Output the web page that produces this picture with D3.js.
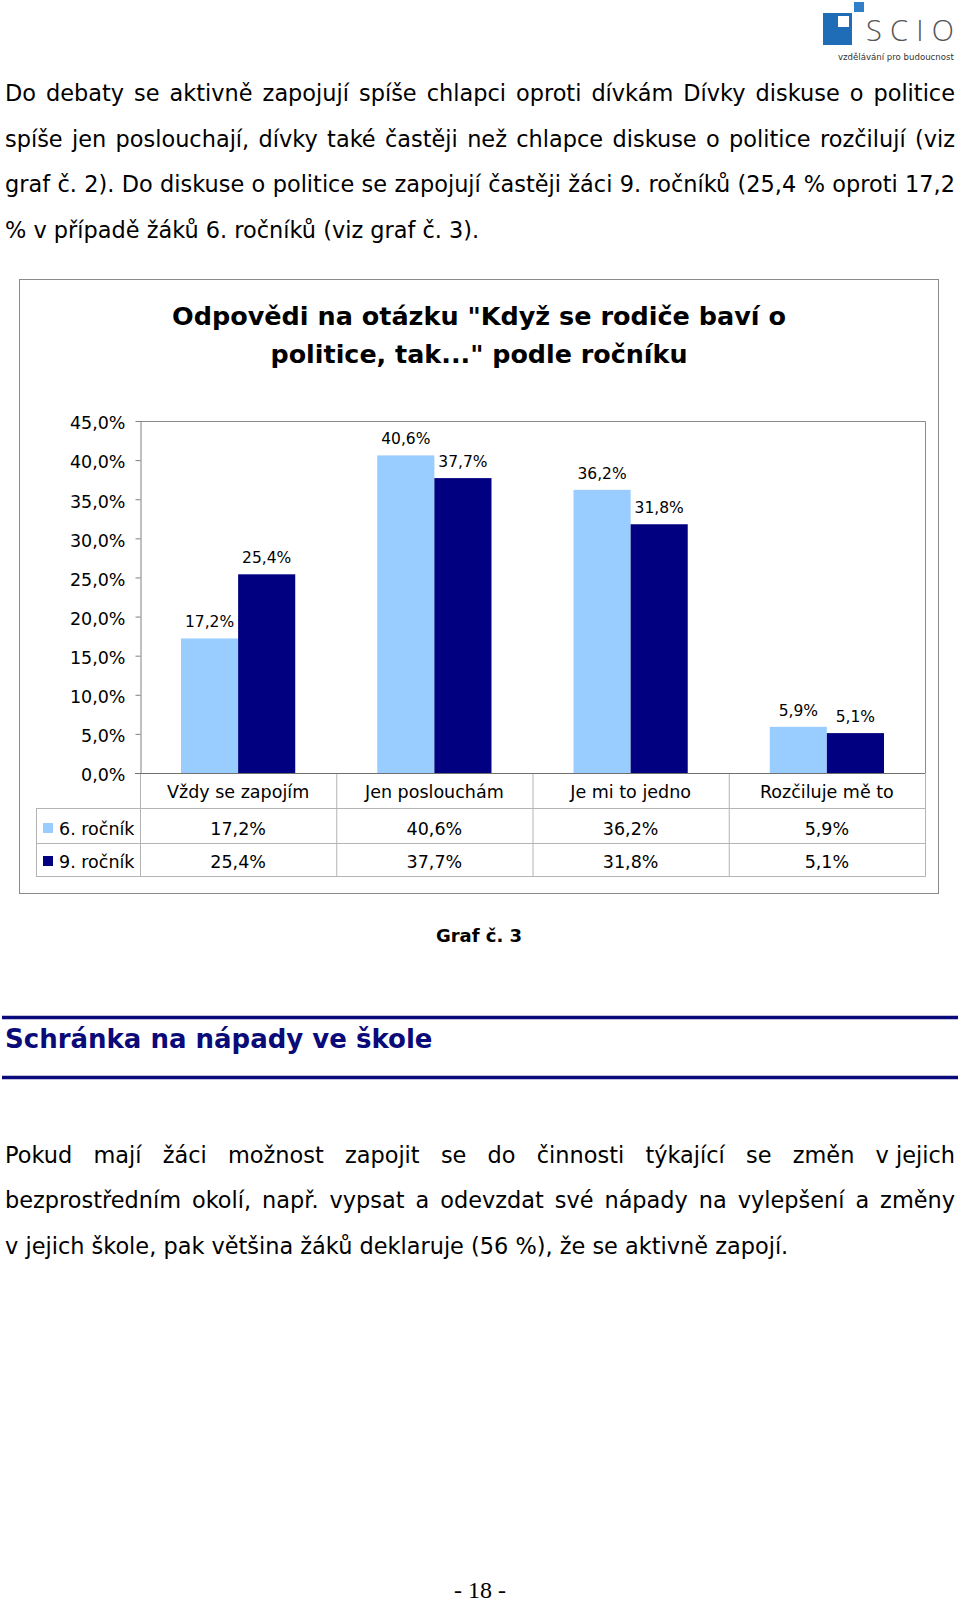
<!DOCTYPE html>
<html><head><meta charset="utf-8">
<script src="https://cdn.jsdelivr.net/npm/d3@7"></script>
<style>
html,body{margin:0;padding:0;background:#fff;}
svg{display:block;}
</style></head><body>
<svg id="page" width="960" height="1604"></svg>
<script>
// ---------- data ----------
const categories = ["Vždy se zapojím", "Jen poslouchám", "Je mi to jedno", "Rozčiluje mě to"];
const seriesNames = ["6. ročník", "9. ročník"];
const grade6 = [17.2, 40.6, 36.2, 5.9];
const grade9 = [25.4, 37.7, 31.8, 5.1];
const yTicks = [0, 5, 10, 15, 20, 25, 30, 35, 40, 45];
const chartTitle = ['Odpovědi na otázku "Když se rodiče baví o', 'politice, tak..." podle ročníku'];
const para1 = [
  "Do debaty se aktivně zapojují spíše chlapci oproti dívkám Dívky diskuse o politice",
  "spíše jen poslouchají, dívky také častěji než chlapce diskuse o politice rozčilují (viz",
  "graf č. 2). Do diskuse o politice se zapojují častěji žáci 9. ročníků (25,4 % oproti 17,2",
  "% v případě žáků 6. ročníků (viz graf č. 3)."
];
const para2 = [
  "Pokud mají žáci možnost zapojit se do činnosti týkající se změn v\u00A0jejich",
  "bezprostředním okolí, např. vypsat a odevzdat své nápady na vylepšení a změny",
  "v\u00A0jejich škole, pak většina žáků deklaruje (56 %), že se aktivně zapojí."
];
const caption = "Graf č. 3";
const heading = "Schránka na nápady ve škole";
const pageNo = "- 18 -";
const logoWord = "SCIO";
const logoTagline = "vzdělávání pro budoucnost";

// ---------- helpers ----------
const svg = d3.select("#page");
const FONT = "'DejaVu Sans', Verdana, sans-serif";
const ctx = document.createElement("canvas").getContext("2d");
function measure(str, font) { ctx.font = font; return ctx.measureText(str).width; }
const pct = v => d3.format(".1f")(v).replace(".", ",") + "%";

// ---------- logo ----------
const logo = svg.append("g");
logo.append("rect").attr("x", 854).attr("y", 2).attr("width", 10).attr("height", 10).attr("fill", "#2f80c8");
logo.append("rect").attr("x", 823).attr("y", 13).attr("width", 29).attr("height", 32).attr("fill", "#1f6db6");
logo.append("rect").attr("x", 838).attr("y", 16).attr("width", 11).attr("height", 11).attr("fill", "#fff");
logo.append("text").attr("x", 866).attr("y", 41).attr("textLength", 88).attr("lengthAdjust", "spacing")
  .attr("font-family", "'Open Sans', 'DejaVu Sans', sans-serif").attr("font-weight", 300)
  .attr("font-size", 29).attr("fill", "#555").text(logoWord);
const tagSize = 10 * 116 / measure(logoTagline, "10px 'DejaVu Sans'");
logo.append("text").attr("x", 838).attr("y", 60)
  .attr("font-family", FONT).attr("font-size", tagSize).attr("fill", "#333").text(logoTagline);

// ---------- body paragraphs ----------
const ref = 18.5;
const fitA = ref * 781 / measure(para2[para2.length - 1], ref + "px 'DejaVu Sans'");
const fitB = ref * 476 / measure(para1[para1.length - 1], ref + "px 'DejaVu Sans'");
const bodySize = Math.max(17, Math.min(23, (fitA + fitB) / 2));
const bodyFont = bodySize + "px 'DejaVu Sans'";
const spaceW = measure(" ", bodyFont);

function drawParagraph(lines, baselines) {
  lines.forEach((line, i) => {
    const words = line.split(" ");
    const widths = words.map(w => measure(w, bodyFont));
    const total = d3.sum(widths);
    const justified = i < lines.length - 1;
    const gap = justified ? (950 - total) / (words.length - 1) : spaceW;
    const t = svg.append("text").attr("y", baselines[i]).attr("font-family", FONT)
      .attr("font-size", bodySize).attr("fill", "#000");
    let x = 5;
    words.forEach((w, j) => {
      t.append("tspan").attr("x", x).text(w);
      x += widths[j] + gap;
    });
  });
}
drawParagraph(para1, [101, 146.7, 192.3, 238]);
drawParagraph(para2, [1162.5, 1208, 1253.5]);

// ---------- chart ----------
const frame = { x: 19, y: 279, w: 919, h: 614 };
svg.append("rect").attr("x", frame.x + 0.5).attr("y", frame.y + 0.5).attr("width", frame.w).attr("height", frame.h)
  .attr("fill", "#fff").attr("stroke", "#8a8a8a");

const title = svg.append("g").attr("font-family", FONT).attr("font-weight", "bold").attr("font-size", 25)
  .attr("text-anchor", "middle").attr("fill", "#000");
title.append("text").attr("x", 479).attr("y", 325).attr("textLength", 614).attr("lengthAdjust", "spacingAndGlyphs").text(chartTitle[0]);
title.append("text").attr("x", 479).attr("y", 363).attr("textLength", 417).attr("lengthAdjust", "spacingAndGlyphs").text(chartTitle[1]);

const plot = { left: 140, right: 925, top: 421, bottom: 773 };
const y = d3.scaleLinear().domain([0, 45]).range([plot.bottom, plot.top]);
const x0 = d3.scaleBand().domain(categories).range([plot.left, plot.right]);
const bw = x0.bandwidth();
const x1 = d3.scaleBand().domain(seriesNames).range([bw * 0.209, bw * 0.791]);
const color = d3.scaleOrdinal().domain(seriesNames).range(["#99ccff", "#000080"]);
const seriesVals = { "6. ročník": grade6, "9. ročník": grade9 };

// plot border (top & right)
svg.append("path").attr("d", `M${plot.left},${plot.top + 0.5}H${plot.right + 0.5}V${plot.bottom}`)
  .attr("fill", "none").attr("stroke", "#8a8a8a");

// y axis
const yAxis = svg.append("g").attr("transform", `translate(${plot.left + 0.5},0)`)
  .call(d3.axisLeft(y).tickValues(yTicks).tickSize(5).tickSizeOuter(0).tickPadding(10).tickFormat(v => pct(v)));
yAxis.selectAll("path,line").attr("stroke", "#808080");
yAxis.selectAll("text").attr("font-family", FONT).attr("font-size", 17.5).attr("fill", "#000").attr("dy", "0.45em");

// bars
const groups = svg.append("g").selectAll("g").data(categories).join("g")
  .attr("transform", d => `translate(${x0(d)},0)`);
groups.selectAll("rect").data((c, ci) => seriesNames.map(s => ({ s, v: seriesVals[s][ci] }))).join("rect")
  .attr("x", d => x1(d.s)).attr("width", x1.bandwidth())
  .attr("y", d => y(d.v)).attr("height", d => y(0) - y(d.v)).attr("fill", d => color(d.s));
groups.selectAll("text").data((c, ci) => seriesNames.map(s => ({ s, v: seriesVals[s][ci] }))).join("text")
  .attr("x", d => x1(d.s) + x1.bandwidth() / 2).attr("y", d => y(d.v) - 11)
  .attr("text-anchor", "middle").attr("font-family", FONT).attr("font-size", 15.5).attr("fill", "#000")
  .text(d => pct(d.v));

// x axis line
svg.append("line").attr("x1", plot.left - 5).attr("x2", plot.right + 0.5).attr("y1", plot.bottom + 0.5).attr("y2", plot.bottom + 0.5)
  .attr("stroke", "#707070");

// data table
const tableLeft = 36;
const tbl = svg.append("g").attr("stroke", "#b4b4b4").attr("fill", "none");
[808, 843, 876].forEach(yy => tbl.append("line").attr("x1", tableLeft).attr("x2", plot.right + 0.5)
  .attr("y1", yy + 0.5).attr("y2", yy + 0.5));
categories.concat([null]).forEach(c => {
  const xx = c === null ? plot.right : x0(c);
  tbl.append("line").attr("x1", xx + 0.5).attr("x2", xx + 0.5).attr("y1", plot.bottom + 1).attr("y2", 876.5);
});
tbl.append("line").attr("x1", tableLeft + 0.5).attr("x2", tableLeft + 0.5).attr("y1", 808).attr("y2", 876.5);

const tText = svg.append("g").attr("font-family", FONT).attr("font-size", 17.5).attr("fill", "#000");
tText.selectAll("text.cat").data(categories).join("text").attr("class", "cat")
  .attr("x", d => x0(d) + bw / 2).attr("y", 798).attr("text-anchor", "middle").text(d => d);
seriesNames.forEach((s, si) => {
  const base = [835, 868][si];
  tText.selectAll("text.v" + si).data(seriesVals[s]).join("text").attr("class", "v" + si)
    .attr("x", (d, i) => x0(categories[i]) + bw / 2).attr("y", base).attr("text-anchor", "middle").text(d => pct(d));
  tText.append("text").attr("x", 59).attr("y", base).text(s);
  svg.append("rect").attr("x", 43).attr("y", base - 12).attr("width", 10).attr("height", 10).attr("fill", color(s));
});

// ---------- caption & heading ----------
svg.append("text").attr("x", 479).attr("y", 942).attr("text-anchor", "middle").attr("font-family", FONT)
  .attr("font-weight", "bold").attr("font-size", 18).attr("fill", "#000").text(caption);
svg.append("line").attr("x1", 2).attr("x2", 958).attr("y1", 1017.5).attr("y2", 1017.5).attr("stroke", "#0a0a7a").attr("stroke-width", 3.5);
svg.append("line").attr("x1", 2).attr("x2", 958).attr("y1", 1077.5).attr("y2", 1077.5).attr("stroke", "#0a0a7a").attr("stroke-width", 3.5);
svg.append("text").attr("x", 5).attr("y", 1048).attr("font-family", FONT).attr("font-weight", "bold")
  .attr("font-size", 26).attr("fill", "#0a0a78").text(heading);

// ---------- page number ----------
svg.append("text").attr("x", 480).attr("y", 1598).attr("text-anchor", "middle")
  .attr("font-family", "'Liberation Serif', 'DejaVu Serif', serif").attr("font-size", 24).attr("fill", "#000").text(pageNo);
</script>
</body></html>
